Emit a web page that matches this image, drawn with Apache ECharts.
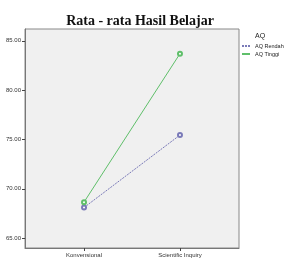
<!DOCTYPE html>
<html>
<head>
<meta charset="utf-8">
<script src="https://cdn.jsdelivr.net/npm/echarts@6/dist/echarts.min.js"></script>
<style>
  html, body { margin: 0; padding: 0; background: #fff; }
  #chart { width: 285px; height: 262px; }
</style>
</head>
<body>
<div id="chart"></div>
<script>
// data
var categories = ['Konvensional', 'Scientific Inquiry']
var rendah = [68.1, 75.45]
var tinggi = [68.65, 83.7]
var yTicks = [65, 70, 75, 80, 85]

var myChart = echarts.init(document.getElementById('chart'))

function pts(arr) {
    return arr.map(function (v, i) { return [i, v] })
}

var aqLabel = {
    type: 'text',
    left: 255,
    top: 33,
    style: { text: 'AQ', font: '7px Liberation Sans', fill: '#222' }
}

var option = {
    animation: false,
    backgroundColor: '#fff',
    title: {
        text: 'Rata - rata Hasil Belajar',
        left: 135,
        top: 9,
        textAlign: 'center',
        textStyle: { fontFamily: 'Liberation Serif', fontWeight: 'bold', fontSize: 14, color: '#111' }
    },
    legend: {
        orient: 'vertical',
        left: 241,
        top: 43,
        padding: 0,
        itemWidth: 8,
        itemHeight: 4,
        itemGap: 2,
        textStyle: { fontFamily: 'Liberation Sans', fontSize: 5.5, color: '#222', overflow: 'none' },
        itemStyle: { opacity: 0 },
        data: ['AQ Rendah', 'AQ Tinggi']
    },
    graphic: [aqLabel],
    grid: { left: 25, right: 46, top: 29, bottom: 14 },
    xAxis: {
        type: 'value',
        min: -0.615,
        max: 1.615,
        splitLine: { show: false },
        axisLine: { onZero: false, lineStyle: { color: '#777', width: 1 } },
        axisTick: { customValues: [0, 1], length: 3, lineStyle: { color: '#444' } },
        axisLabel: {
            customValues: [0, 1],
            fontFamily: 'Liberation Sans', fontSize: 6, color: '#333', margin: 4,
            formatter: function (v) { return categories[Math.round(v)] }
        }
    },
    yAxis: {
        type: 'value',
        min: 64,
        max: 86.2,
        splitLine: { show: false },
        axisLine: { show: true, onZero: false, lineStyle: { color: '#777', width: 1 } },
        axisTick: { customValues: yTicks, length: 3, lineStyle: { color: '#444' } },
        axisLabel: {
            customValues: yTicks,
            fontFamily: 'Liberation Sans', fontSize: 6, color: '#333', margin: 4,
            formatter: function (v) { return v.toFixed(2) }
        }
    },
    series: [{
        name: 'AQ Rendah',
        type: 'line',
        data: pts(rendah),
        symbol: 'emptyCircle',
        symbolSize: 4,
        lineStyle: { color: '#7a7ab8', width: 1, type: [2, 1] },
        itemStyle: { color: '#7a7ab8', borderWidth: 0.6 }
    }, {
        name: 'AQ Tinggi',
        type: 'line',
        data: pts(tinggi),
        symbol: 'emptyCircle',
        symbolSize: 4,
        lineStyle: { color: '#5fbf6a', width: 1 },
        itemStyle: { color: '#5fbf6a', borderWidth: 0.6 }
    }]
}
myChart.setOption(option)

// plot background and frame
var rect = myChart.getModel().getComponent('grid').coordinateSystem.getRect()
myChart.setOption({
    graphic: [aqLabel, {
        type: 'rect',
        z: -1,
        shape: { x: rect.x, y: rect.y, width: rect.width, height: rect.height },
        style: { fill: '#f0f0f0', stroke: '#888', lineWidth: 1 }
    }]
})
</script>
</body>
</html>
